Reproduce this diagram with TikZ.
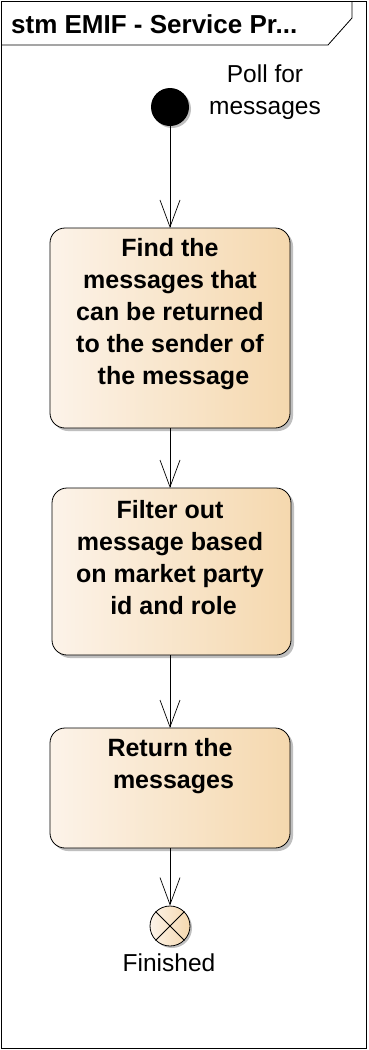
\documentclass[tikz,border=0pt]{standalone}
\usepackage{fontspec}
\setmainfont{Liberation Sans}
\usetikzlibrary{arrows.meta}
\definecolor{fillL}{HTML}{FCF3E9}
\definecolor{fillR}{HTML}{F5D8AE}
\tikzset{
  act/.style={draw=black, line width=0.8pt, rounded corners=15pt, left color=fillL, right color=fillR},
  shadowbox/.style={fill=black!25, rounded corners=15pt},
  acttext/.style={font=\fontsize{25}{32}\selectfont\bfseries, align=center, inner sep=0pt},
  flow/.style={draw=black, line width=0.7pt, -{Straight Barb[length=27pt,width=20pt,line width=0.7pt]}},
  lbl/.style={font=\fontsize{24.5}{32}\selectfont, align=center, inner sep=0pt}
}
\begin{document}
\begin{tikzpicture}[x=1pt,y=-1pt]
\useasboundingbox (0,0) rectangle (368,1050);
\fill[white] (0,0) rectangle (368,1050);
% frame
\draw[line width=0.8pt] (1,1) rectangle (366,1048);
\draw[line width=0.8pt] (1,45) -- (328,45) -- (352,18) -- (352,1);
\node[font=\fontsize{26}{30}\selectfont\bfseries, anchor=west, inner sep=0pt] (title) at (11,24) {stm EMIF - Service Pr...};
% start
\fill[black!25] (172,109) circle (19);
\node[circle, fill=black, minimum size=38pt, inner sep=0pt] (start) at (170,107) {};
\node[lbl] (startlbl) at (265,92) {Poll for\\messages};
% box 1
\fill[shadowbox] (53,231) rectangle (293,431);
\path[act] (50,228) rectangle (290,428);
\coordinate (b1t) at (170,228);
\coordinate (b1b) at (170,428);
\node[acttext] (t1) at (170,314) {Find the\\messages that\\can be returned\\to the sender of\\\ the message};
% box 2
\fill[shadowbox] (55,491) rectangle (294,658);
\path[act] (52,488) rectangle (291,655);
\coordinate (b2t) at (170,488);
\coordinate (b2b) at (170,655);
\node[acttext] (t2) at (170,558) {Filter out\\message based\\on market party\\\ id and role};
% box 3
\fill[shadowbox] (53,731) rectangle (293,851);
\path[act] (50,728) rectangle (290,848);
\coordinate (b3t) at (170,728);
\coordinate (b3b) at (170,848);
\node[acttext] (t3) at (170,766) {Return the\\\ messages};
% final
\fill[black!25] (172,928) circle (20);
\node[circle, draw=black, line width=0.8pt, left color=fillL, right color=fillR, minimum size=40pt, inner sep=0pt] (fin) at (170,926) {};
\draw[line width=0.8pt] (fin.north west) -- (fin.south east);
\draw[line width=0.8pt] (fin.north east) -- (fin.south west);
\node[lbl, anchor=north] (finlbl) at (169,954) {Finished};
% flows
\draw[flow] (start) -- (b1t);
\draw[flow] (b1b) -- (b2t);
\draw[flow] (b2b) -- (b3t);
\draw[flow] (b3b) -- (fin);
\end{tikzpicture}
\end{document}
